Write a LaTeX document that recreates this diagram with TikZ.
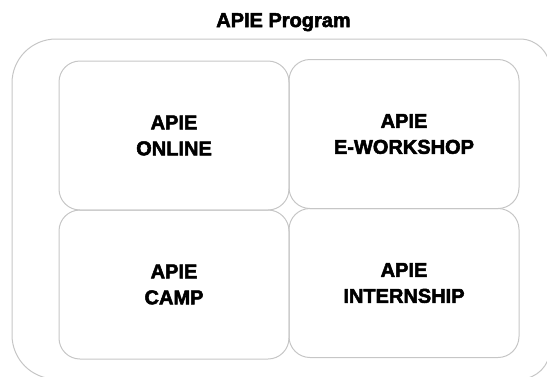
\documentclass[tikz,border=0pt]{standalone}
\usepackage{fontspec}
\setmainfont[BoldFeatures={FakeBold=2.6}]{Liberation Sans}
\usepackage{xcolor}
\usetikzlibrary{positioning}

\definecolor{framegray}{HTML}{C6C6C6}

\begin{document}
\begin{tikzpicture}[
    x=1pt, y=-1pt,
    node distance=0pt,
    title/.style={font=\bfseries\fontsize{20}{26}\selectfont, anchor=base},
    program/.style={rectangle, draw=framegray, line width=1pt, rounded corners=21pt, minimum width=230pt, minimum height=149pt, outer sep=0pt, align=center, font=\bfseries\fontsize{20}{26}\selectfont},
    frame/.style={draw=framegray, line width=1pt}
]
\clip (0,0) rectangle (547,376);
\useasboundingbox (0,0) rectangle (547,376);

% Title
\node[title] (heading) at (283.5,27) {APIE Program};

% Outer frame
\draw[frame, rounded corners=44pt] (290,39) -- (12,39) -- (12,379) -- (290,379)
    [rounded corners=30pt] -- (550,379) -- (550,39) -- cycle;

% Four programs
\node[program] (online) at (174,135.5) {APIE\\ONLINE};
\node[program, right=of online, yshift=1.5pt] (workshop) {APIE\\E-WORKSHOP};
\node[program, below=of online] (camp) {APIE\\CAMP};
\node[program, below=of workshop] (internship) {APIE\\INTERNSHIP};
\end{tikzpicture}
\end{document}
